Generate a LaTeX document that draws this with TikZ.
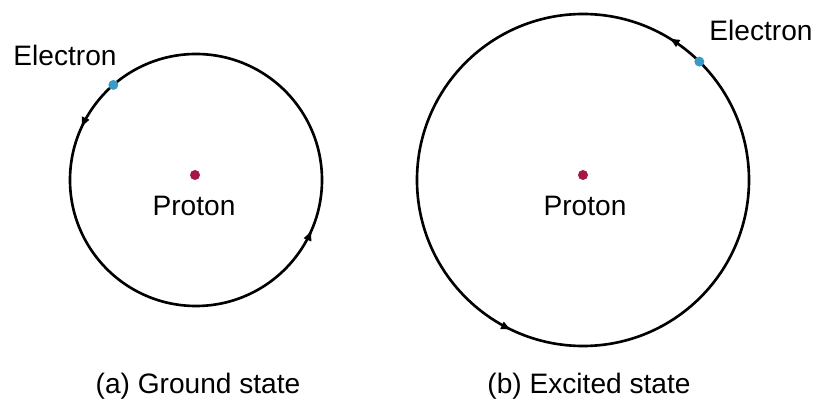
\documentclass[tikz,border=0pt]{standalone}
\usepackage{fontspec}
\setmainfont{Liberation Sans}
\usetikzlibrary{arrows.meta, calc, decorations.markings}
\definecolor{protonRed}{HTML}{A3174A}
\definecolor{electronBlue}{HTML}{3A9CC4}

\begin{document}
\begin{tikzpicture}[x=0.02cm, y=0.02cm, font=\fontsize{16}{19}\selectfont,
    orbit/.style={line width=1.5pt, postaction={decorate}},
    particle/.style={circle, inner sep=0pt, minimum size=0.2cm}]
  \useasboundingbox (0,0) rectangle (819,406);
  % (a) ground state
  \coordinate (ca) at (196,226);
  \draw[orbit, decoration={markings,
      mark=at position 0.433 with {\arrow{Latex[length=6.5pt,width=5pt]}},
      mark=at position 0.936 with {\arrow{Latex[length=6.5pt,width=5pt]}}}]
    (ca) circle[radius=126];
  \node[particle, fill=protonRed] (pa) at (195,231) {};
  \node (labPa) at (194,200) {Proton};
  \node[particle, fill=electronBlue] (ea) at ($(ca)+(131:126)$) {};
  \node (labEa) at (65,351) {Electron};
  \node (capA) at (198,20) {(a) Ground state};
  % (b) excited state
  \coordinate (cb) at (583,226);
  \draw[orbit, decoration={markings,
      mark=at position 0.164 with {\arrow{Latex[length=6.5pt,width=5pt]}},
      mark=at position 0.680 with {\arrow{Latex[length=6.5pt,width=5pt]}}}]
    (cb) circle[radius=166];
  \node[particle, fill=protonRed] (pb) at (583,231) {};
  \node (labPb) at (585,200) {Proton};
  \node[particle, fill=electronBlue] (eb) at ($(cb)+(45.5:166)$) {};
  \node (labEb) at (761,376) {Electron};
  \node (capB) at (589,20) {(b) Excited state};
\end{tikzpicture}
\end{document}
